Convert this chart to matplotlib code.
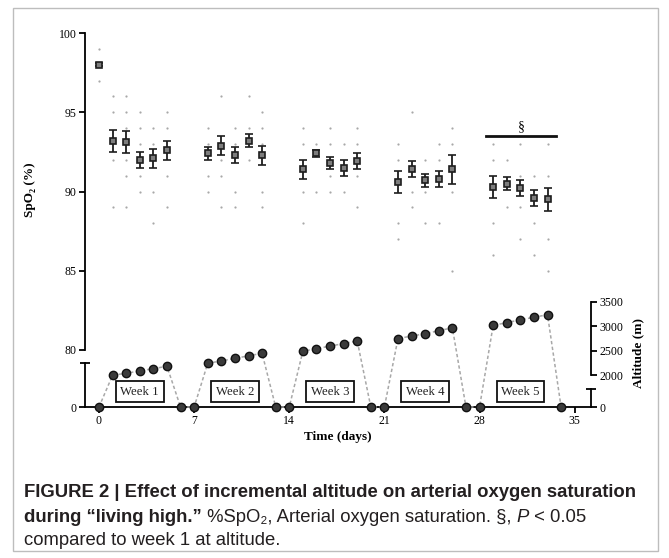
import numpy as np
import matplotlib
matplotlib.use("Agg")
import matplotlib.pyplot as plt
from matplotlib.patches import Rectangle
from matplotlib.transforms import IdentityTransform, blended_transform_factory

# SpO2 diária: média, EPM e valores individuais
dias_spo2 = [0, 1, 2, 3, 4, 5, 8, 9, 10, 11, 12, 15, 16, 17, 18, 19,
             22, 23, 24, 25, 26, 29, 30, 31, 32, 33]
media_spo2 = [98.0, 93.2, 93.1, 92.0, 92.1, 92.6, 92.4, 92.9, 92.3, 93.2, 92.3,
              91.4, 92.4, 91.8, 91.5, 91.9, 90.6, 91.4, 90.7, 90.8, 91.4,
              90.3, 90.5, 90.2, 89.6, 89.5]
epm_spo2 = [0.1, 0.7, 0.7, 0.5, 0.6, 0.6, 0.4, 0.6, 0.5, 0.4, 0.6,
            0.6, 0.2, 0.4, 0.5, 0.5, 0.7, 0.5, 0.4, 0.5, 0.9,
            0.7, 0.4, 0.5, 0.5, 0.7]
individuais = [
    [99, 97],
    [96, 95, 92, 89], [96, 95, 94, 92, 91, 89], [95, 94, 93, 91, 90],
    [94, 93, 90, 88], [95, 94, 91, 89],
    [94, 93, 91, 90], [96, 92, 91, 89], [94, 93, 90, 89],
    [96, 94, 92], [95, 94, 93, 90, 89],
    [94, 93, 90, 88], [93, 90], [94, 93, 91, 90], [93, 90], [94, 93, 91, 89],
    [93, 92, 88, 87], [95, 90, 89], [92, 90, 88], [93, 92, 88], [94, 93, 90, 85],
    [93, 92, 88, 86], [92, 89], [93, 91, 89, 87], [91, 88, 86], [93, 91, 87, 85],
]

# Altitude (m) ao longo do protocolo
dias_alt = list(range(0, 35))
altitude = [0, 1990, 2035, 2085, 2130, 2180, 0,
            0, 2240, 2290, 2340, 2395, 2445, 0,
            0, 2490, 2540, 2595, 2645, 2700, 0,
            0, 2750, 2800, 2850, 2910, 2970, 0,
            0, 3020, 3075, 3135, 3185, 3240, 0]

semanas = ['Week 1', 'Week 2', 'Week 3', 'Week 4', 'Week 5']
ticks_x = [0, 7, 14, 21, 28, 35]
ticks_spo2 = [80, 85, 90, 95, 100]
ticks_alt = [2000, 2500, 3000, 3500]
sig_nivel = 93.5  # linha do § (semana 5 vs semana 1)

plt.rcParams['font.family'] = ['Liberation Serif', 'DejaVu Serif']

W, H = 669, 558
fig = plt.figure(figsize=(W / 100, H / 100), dpi=100)

# moldura externa
fig.patches.append(Rectangle((13 / W, 7 / H), 645 / W, 543 / H, transform=fig.transFigure,
                             fill=False, edgecolor='#bdbdbd', lw=1.0))

pos = [85 / W, 151 / H, 506 / W, 374 / H]
alt_px = pos[3] * H  # altura do eixo em pixels

ax = fig.add_axes(pos)
ax.set_xlim(-1.03, 36.2)
ax.set_ylim(100 - alt_px / 15.85, 100)

# eixo de altitude quebrado: 0 encostado no eixo x, 2000-3500 em escala linear
ALT_M = [0, 2000, 3500, 30000]
ALT_P = [0, 32, 105, 105 + 26500 * 73 / 1500]


def alt_fwd(a):
    return np.interp(a, ALT_M, ALT_P)


def alt_inv(p):
    return np.interp(p, ALT_P, ALT_M)


def eixo_alt(a):
    a.set_yscale('function', functions=(alt_fwd, alt_inv))
    a.set_ylim(0, float(alt_inv(alt_px)))
    a.spines['top'].set_visible(False)
    a.spines['bottom'].set_visible(False)


low = ax.twinx()
eixo_alt(low)
alt = ax.twinx()
eixo_alt(alt)

lw = 1.3
tam = 8.5
for s in ['top', 'right']:
    ax.spines[s].set_visible(False)
ax.spines['left'].set_bounds(80, 100)
ax.spines['left'].set_linewidth(lw)
ax.spines['bottom'].set_linewidth(lw)
ax.set_xticks(ticks_x)
ax.set_yticks(ticks_spo2)
ax.tick_params(direction='out', length=4, width=lw, labelsize=tam, pad=2)

# segmentos inferiores dos eixos
low.yaxis.tick_left()
low.spines['left'].set_bounds(0, 2247)
low.spines['left'].set_linewidth(lw)
low.spines['right'].set_bounds(0, 1125)
low.spines['right'].set_linewidth(lw)
low.set_yticks([0])
low.set_yticklabels(['0'])
low.set_yticks([2247], minor=True)
low.tick_params(which='major', direction='out', length=4, width=lw, labelsize=tam, pad=2)
low.tick_params(which='minor', direction='inout', length=7, width=lw)

alt.spines['left'].set_visible(False)
alt.spines['right'].set_bounds(2000, 3500)
alt.spines['right'].set_linewidth(lw)
alt.set_yticks([0] + ticks_alt)
alt.set_yticklabels(['0'] + [str(t) for t in ticks_alt])
alt.set_yticks([1125], minor=True)
alt.tick_params(which='major', direction='out', length=4, width=lw, labelsize=tam, pad=2)
alt.tick_params(which='minor', direction='inout', length=7, width=lw)

# SpO2: pontos individuais + média ± EPM
for d, vals in zip(dias_spo2, individuais):
    ax.plot([d] * len(vals), vals, ls='none', marker='o', ms=1.6,
            color='#a8a8a8', mec='none', zorder=1)
ax.errorbar(dias_spo2, media_spo2, yerr=epm_spo2, fmt='s', ms=5,
            mfc='#7d7d7d', mec='#1e1e1e', mew=1.2, ecolor='#1e1e1e',
            elinewidth=1.3, capsize=2.8, capthick=1.3, zorder=3)

# significância na semana 5
d5 = [d for d in dias_spo2 if d > 28]
ax.plot([min(d5) - 0.5, max(d5) + 0.6], [sig_nivel, sig_nivel], color='#111111', lw=2.0)
ax.text(np.mean(d5) + 0.1, sig_nivel + 0.2, '§', ha='center', va='bottom', fontsize=10)

# altitude
alt.plot(dias_alt, altitude, color='#a8a8a8', ls=(0, (2.2, 1.6)), lw=1.1,
         marker='o', ms=6, mfc='#3a3a3a', mec='#111111', mew=1.0,
         clip_on=False, zorder=4)

d_arr = np.array(dias_alt)
a_arr = np.array(altitude)
tr = blended_transform_factory(alt.transData, alt.transAxes)
for k, nome in enumerate(semanas):
    sel = (a_arr > 0) & (d_arr > 7 * k) & (d_arr < 7 * k + 7)
    alt.text(d_arr[sel].mean(), 0.041, nome, transform=tr, ha='center', va='center',
             fontsize=9.2, color='#222222',
             bbox=dict(boxstyle='square,pad=0.35', fc='white', ec='#111111', lw=1.3))

ax.set_xlabel('Time (days)', fontsize=9.5, fontweight='bold')
ax.xaxis.set_label_coords(0.5, -0.064)
ax.set_ylabel('SpO₂ (%)', fontsize=9.5, fontweight='bold')
ax.yaxis.set_label_coords(-0.097, 0.58)
alt.set_ylabel('Altitude (m)', fontsize=9.5, fontweight='bold')
alt.yaxis.set_label_coords(1.081, 0.144)

# legenda da figura
fig.canvas.draw()
rend = fig.canvas.get_renderer()
sans = ['Liberation Sans', 'DejaVu Sans']
cor = '#231f20'
fs = 13.3


def linha(partes, x, y):
    for texto, kw in partes:
        t = fig.text(x, y, texto, transform=IdentityTransform(), family=sans,
                     fontsize=fs, color=cor, va='baseline', ha='left', **kw)
        x += t.get_window_extent(rend).width


negrito = dict(fontweight='bold')
normal = dict()
linha([('FIGURE 2 | Effect of incremental altitude on arterial oxygen saturation', negrito)],
      24, H - 497)
linha([('during “living high.”', negrito),
       (' %SpO₂, Arterial oxygen saturation. §, ', normal),
       ('P', dict(style='italic')),
       (' < 0.05', normal)], 24, H - 521.5)
linha([('compared to week 1 at altitude.', normal)], 24, H - 545)

fig.savefig('out.png', dpi=100)
